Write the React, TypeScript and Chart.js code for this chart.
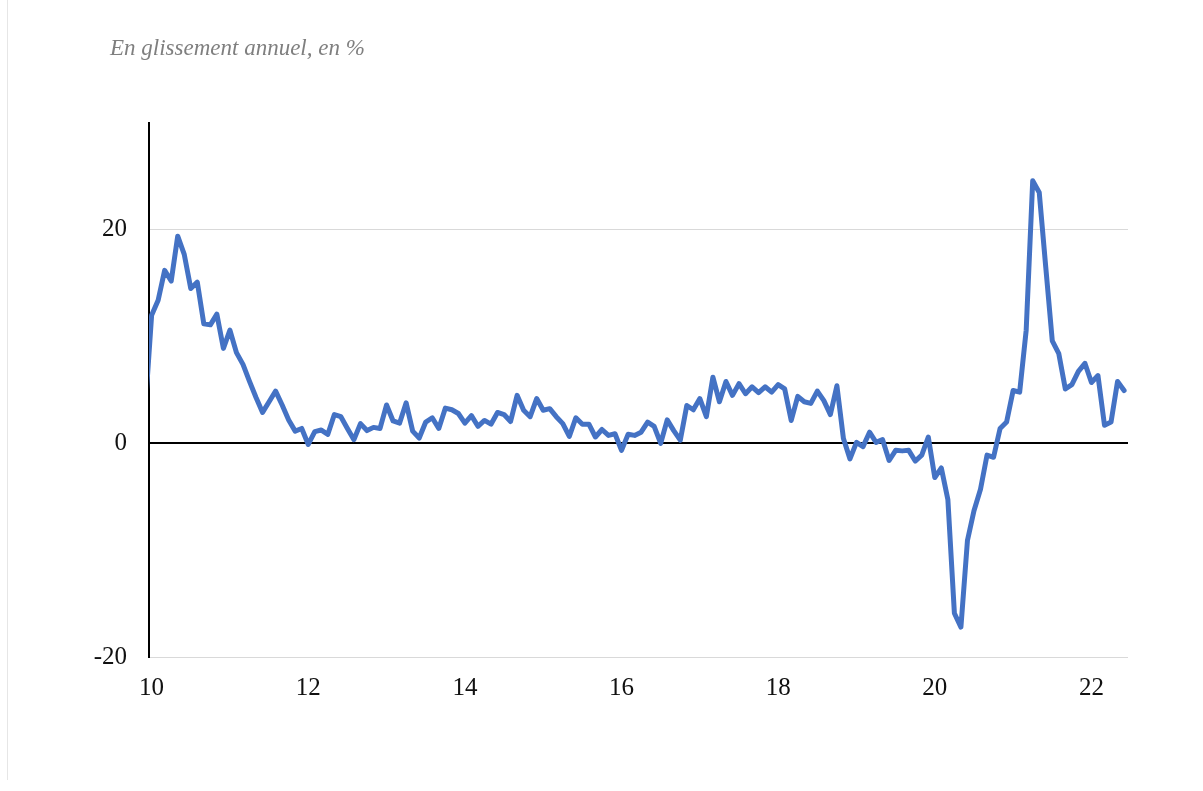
import React, { useEffect, useRef } from "react";
import { Chart, registerables } from "chart.js";

Chart.register(...registerables);

// Monthly year-on-year change (%), Dec 2009 (clipped at the axis) then Jan 2010 .. Jun 2022
const startIndex = -1; // Dec 2009
const values: number[] = [
  3.0,
  // 2010
  12.0, 13.4, 16.2, 15.2, 19.4, 17.7, 14.5, 15.1, 11.2, 11.1, 12.1, 8.9,
  // 2011
  10.6, 8.5, 7.4, 5.8, 4.3, 2.9, 3.9, 4.9, 3.6, 2.2, 1.15, 1.4,
  // 2012
  -0.1, 1.1, 1.25, 0.85, 2.7, 2.5, 1.4, 0.35, 1.85, 1.2, 1.5, 1.4,
  // 2013
  3.6, 2.1, 1.9, 3.8, 1.15, 0.5, 2.0, 2.4, 1.4, 3.3, 3.15, 2.8,
  // 2014
  1.9, 2.6, 1.6, 2.15, 1.8, 2.9, 2.7, 2.05, 4.5, 3.1, 2.5, 4.2,
  // 2015
  3.1, 3.25, 2.5, 1.85, 0.65, 2.4, 1.8, 1.8, 0.6, 1.3, 0.75, 0.9,
  // 2016
  -0.65, 0.85, 0.75, 1.05, 2.0, 1.6, 0.0, 2.2, 1.2, 0.3, 3.55, 3.15,
  // 2017
  4.2, 2.5, 6.2, 3.9, 5.8, 4.5, 5.6, 4.65, 5.3, 4.75, 5.3, 4.8,
  // 2018
  5.5, 5.1, 2.15, 4.4, 3.9, 3.75, 4.9, 4.0, 2.7, 5.4, 0.45, -1.45,
  // 2019
  0.1, -0.3, 1.05, 0.1, 0.35, -1.6, -0.65, -0.7, -0.65, -1.65, -1.1, 0.6,
  // 2020
  -3.2, -2.3, -5.25, -15.9, -17.2, -9.1, -6.3, -4.3, -1.1, -1.3, 1.4, 2.0,
  // 2021
  4.95, 4.8, 10.6, 24.6, 23.5, 16.5, 9.6, 8.4, 5.1, 5.5, 6.75, 7.5,
  // 2022
  5.7, 6.35, 1.7, 2.0, 5.8, 4.95,
];

const xTickMonths: number[] = [0, 24, 48, 72, 96, 120, 144];
const xTickLabels: string[] = ["10", "12", "14", "16", "18", "20", "22"];
const yTicks: number[] = [-20, 0, 20];
const yMin = -20;
const yMax = 30;
const xMin = -0.4;
const xMax = 149.6;

const subtitle = "En glissement annuel, en %";

const FONT = "'Liberation Serif', 'Times New Roman', serif";

export default function App() {
  const ref = useRef<HTMLCanvasElement | null>(null);

  useEffect(() => {
    if (!ref.current) return;
    const points = values.map((v, i) => ({ x: startIndex + i, y: v }));
    const chart = new Chart(ref.current, {
      type: "line",
      data: {
        datasets: [
          {
            data: points,
            borderColor: "#4472C4",
            borderWidth: 5,
            pointRadius: 0,
            tension: 0,
            borderJoinStyle: "round",
            borderCapStyle: "round",
            fill: false,
          },
        ],
      },
      options: {
        animation: false,
        responsive: false,
        maintainAspectRatio: false,
        layout: { padding: { left: 0, right: 75, top: 123, bottom: 84 } },
        plugins: {
          legend: { display: false },
          tooltip: { enabled: false },
        },
        scales: {
          x: {
            type: "linear",
            min: xMin,
            max: xMax,
            afterBuildTicks: (scale: any) => {
              scale.ticks = xTickMonths.map((v) => ({ value: v }));
            },
            afterFit: (scale: any) => {
              scale.height = 50;
            },
            grid: { display: false, drawTicks: false },
            border: { display: false },
            ticks: {
              padding: 16,
              maxRotation: 0,
              autoSkip: false,
              color: "#111",
              font: { family: FONT, size: 25 },
              callback: (value: any) => {
                const idx = xTickMonths.indexOf(Number(value));
                return idx >= 0 ? xTickLabels[idx] : "";
              },
            },
          },
          y: {
            type: "linear",
            min: yMin,
            max: yMax,
            afterBuildTicks: (scale: any) => {
              scale.ticks = yTicks.map((v) => ({ value: v }));
            },
            afterFit: (scale: any) => {
              scale.width = 149;
            },
            grid: {
              drawTicks: false,
              color: (ctx: any) => (ctx.tick && ctx.tick.value === 0 ? "#000000" : "#d9d9d9"),
              lineWidth: (ctx: any) => (ctx.tick && ctx.tick.value === 0 ? 2 : 1),
            },
            border: { display: true, color: "#000000", width: 2 },
            ticks: {
              padding: 22,
              color: "#111",
              font: { family: FONT, size: 25 },
              callback: (value: any) => String(value),
            },
          },
        },
      },
    });
    return () => chart.destroy();
  }, []);

  return (
    <div style={{ position: "absolute", left: 0, top: 0, width: 1203, height: 791, background: "#fff" }}>
      <div
        style={{
          position: "absolute",
          left: 7,
          top: 0,
          width: 1,
          height: 780,
          background: "#e6e6e6",
        }}
      />
      <canvas
        ref={ref}
        width={1203}
        height={791}
        style={{ position: "absolute", left: 0, top: 0, width: 1203, height: 791 }}
      />
      <div
        style={{
          position: "absolute",
          left: 110,
          top: 35,
          fontFamily: FONT,
          fontStyle: "italic",
          fontSize: 23,
          color: "#7f7f7f",
          whiteSpace: "nowrap",
          lineHeight: "26px",
        }}
      >
        {subtitle}
      </div>
    </div>
  );
}
